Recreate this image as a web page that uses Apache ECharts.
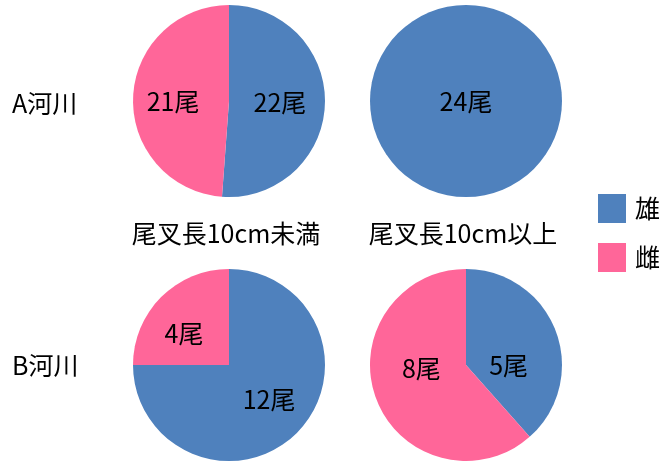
<!DOCTYPE html>
<html><head><meta charset="utf-8">
<script src="https://cdn.jsdelivr.net/npm/echarts@6/dist/echarts.min.js"></script>
<style>html,body{margin:0;padding:0;background:#fff}#c{width:663px;height:463px}</style>
</head><body><div id="c"></div>
<script>
const sexes = ['雄', '雌'];
const rivers = ['A河川', 'B河川'];
const sizeClasses = ['尾叉長10cm未満', '尾叉長10cm以上'];
const riverA_small = [22, 21];
const riverA_large = [24, 0];
const riverB_small = [12, 4];
const riverB_large = [5, 8];
const unit = '尾';

const colors = {'雄': '#4F81BD', '雌': '#FF6699'};
const FONT = '"Noto Sans CJK JP", sans-serif';
const FS = 25;
const chart = echarts.init(document.getElementById('c'));

function pie(values, center, single, offsets) {
  return {
    type: 'pie',
    center: center,
    radius: 96,
    startAngle: 90,
    clockwise: true,
    silent: true,
    avoidLabelOverlap: false,
    label: {show: true, position: single ? 'center' : 'inside', formatter: p => p.value + unit,
      color: '#000', fontSize: FS, fontFamily: FONT},
    labelLine: {show: false},
    itemStyle: {borderWidth: 0},
    emphasis: {disabled: true},
    data: sexes.map((s, i) => ({
      name: s, value: values[i],
      itemStyle: {color: colors[s]},
      label: {show: values[i] > 0, offset: offsets ? offsets[i] : [0, 0]}
    }))
  };
}

function txt(t, x, y, align) {
  return {type: 'text', x: x, y: y, silent: true,
    style: {text: t, fontSize: FS, fontFamily: FONT, fill: '#000', align: align, verticalAlign: 'middle'}};
}

chart.setOption({
  animation: false,
  textStyle: {fontFamily: FONT},
  legend: {
    orient: 'vertical', left: 593, top: 189,
    itemWidth: 28, itemHeight: 29, itemGap: 20,
    icon: 'rect',
    data: sexes,
    textStyle: {fontSize: FS, color: '#000', fontFamily: FONT, padding: [0, 0, 0, 4]},
    selectedMode: false
  },
  graphic: [
    txt(rivers[0], 12, 103, 'left'),
    txt(rivers[1], 12, 365, 'left'),
    txt(sizeClasses[0], 226, 233, 'center'),
    txt(sizeClasses[1], 463, 233, 'center')
  ],
  series: [
    pie(riverA_small, [229, 101], false, [[0, 0], [-5, 2]]),
    pie(riverA_large, [466, 101], true),
    pie(riverB_small, [229, 365], false, [[4, -2], [-9, 5]]),
    pie(riverB_large, [466, 365], false, [[-5, 19], [3, -15]])
  ]
});
</script></body></html>
